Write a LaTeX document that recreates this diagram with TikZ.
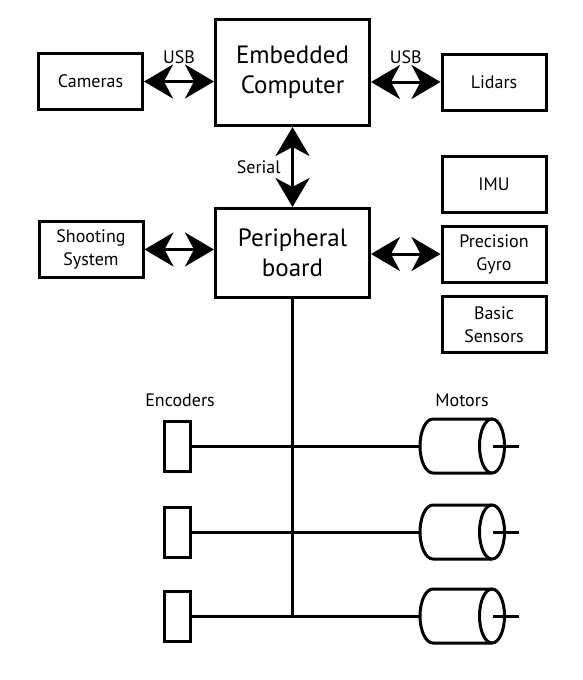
\documentclass[tikz,border=0pt]{standalone}
\usepackage{fontspec}
\setmainfont{PT Sans}
\usetikzlibrary{arrows.meta}
\begin{document}
\begin{tikzpicture}[x=1pt,y=-1pt,
    blk/.style={draw,line width=3pt,minimum width=104pt,minimum height=56pt,
      align=center,font=\fontsize{18}{23}\selectfont},
    big/.style={blk,minimum width=154pt,font=\fontsize{25}{30}\selectfont},
    lbl/.style={font=\fontsize{18}{22}\selectfont},
    link/.style={line width=3pt,
      {Stealth[length=29pt,width=34pt,inset=9pt]}-{Stealth[length=29pt,width=34pt,inset=9pt]}},
    wire/.style={line width=3pt},
    enc/.style={draw,line width=3pt,minimum width=26pt,minimum height=50pt}]
  \useasboundingbox (0,0) rectangle (582,680);
  % computer and peripheral board
  \node[big,minimum height=106pt] (emb) at (292.5,72.5) {Embedded\\Computer};
  \node[big,minimum height=89pt] (per) at (292.5,253) {Peripheral\\board};
  % devices
  \node[blk] (cam) at (90.5,81.5) {Cameras};
  \node[blk] (lid) at (494,82) {Lidars};
  \node[blk] (sht) at (91,249.5) {Shooting\\System};
  \node[blk] (imu) at (494,184.5) {IMU};
  \node[blk] (gyr) at (494,254) {Precision\\Gyro};
  \node[blk] (bas) at (494,324.5) {Basic\\Sensors};
  % links
  \draw[link] (cam.east) -- (cam.east -| emb.west) node[lbl,midway,above=13pt] {USB};
  \draw[link] (emb.east |- lid.west) -- (lid.west) node[lbl,midway,above=13pt] {USB};
  \draw[link] (emb.south) -- (per.north) node[lbl,midway,left=7pt] {Serial};
  \draw[link] (sht.east) -- (sht.east -| per.west);
  \draw[link] (per.east |- gyr.west) -- (gyr.west);
  % encoders and motors
  \node[lbl] (enclbl) at (180,400) {Encoders};
  \node[lbl] (motlbl) at (462,400) {Motors};
  \foreach \i/\y in {1/446,2/532,3/616} {
    \node[enc] (enc\i) at (177.5,\y) {};
    \coordinate (mot\i) at (420,\y);
    % motor body
    \draw[wire] (mot\i) ++(13,-27) -- ++(59,0)
      (mot\i) ++(13,-27) arc[start angle=90,end angle=270,x radius=13pt,y radius=27pt] -- ++(59,0);
    \draw[wire] (mot\i) ++(72,0) ellipse[x radius=12.5pt,y radius=27pt];
    \draw[wire] (mot\i) ++(73,0) -- ++(26,0);
    \draw[wire] (enc\i.east) -- (mot\i);
  }
  \draw[wire] (per.south) -- (per.south |- enc3.east);
\end{tikzpicture}
\end{document}
